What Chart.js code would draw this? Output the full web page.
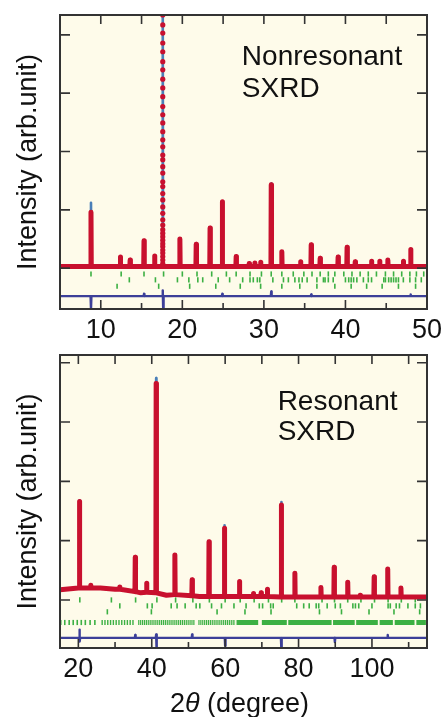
<!DOCTYPE html>
<html>
<head>
<meta charset="utf-8">
<script src="https://cdn.jsdelivr.net/npm/chart.js@4.4.0/dist/chart.umd.min.js"></script>
<style>
  body { margin: 0; background: #fff; }
  #wrap { position: relative; width: 442px; height: 717px; }
  canvas { position: absolute; left: 0; }
  #nrChart { top: 0; }
  #resChart { top: 345px; }
</style>
</head>
<body>
<div id="wrap">
  <canvas id="nrChart" width="442" height="345"></canvas>
  <canvas id="resChart" width="442" height="372"></canvas>
</div>
<script>
// ---- Nonresonant SXRD (top panel) ----
const nrBgX = [5, 50];
const nrBgY = [0.03, 0.03];
const nrPeakPos  = [8.8, 12.4, 13.6, 15.3, 16.6, 17.6, 19.7, 21.7, 23.4, 24.9, 26.6, 28.2, 28.9, 29.6, 30.9, 32.2, 34.5, 35.8, 36.9, 39.1, 40.2, 41.2, 43.2, 44.2, 45.2, 47.1, 48.0];
const nrPeakObs  = [0.96, 0.19, 0.14, 0.47, 0.21, null, 0.50, 0.41, 0.69, 1.14, 0.20, 0.08, 0.09, 0.10, 1.43, 0.28, 0.11, 0.40, 0.17, 0.19, 0.36, 0.11, 0.12, 0.12, 0.14, 0.12, 0.32];
const nrPeakCalc = [1.12, 0.19, 0.14, 0.47, 0.21, 4.60, 0.50, 0.41, 0.69, 1.14, 0.20, 0.08, 0.09, 0.10, 1.45, 0.28, 0.11, 0.40, 0.17, 0.19, 0.36, 0.11, 0.12, 0.12, 0.14, 0.12, 0.32];
// observed points along the strongest reflection
const nrMainPeakX = 17.6;
const nrMainPeakDots = [4.34, 4.17, 4.03, 3.86, 3.71, 3.54, 3.40, 3.24, 3.09, 2.94, 2.77, 2.63, 2.49, 2.34, 2.20, 2.08, 1.94, 1.86, 1.74, 1.63, 1.48, 1.40, 1.28, 1.17, 1.05, 0.94, 0.83, 0.74, 0.66, 0.60, 0.54, 0.48, 0.42, 0.37, 0.31, 0.26, 0.20, 0.14, 0.08];
const nrBragg1 = [8.8, 12.5, 15.3, 17.7, 20.0, 21.8, 23.6, 25.4, 26.6, 28.3, 29.7, 30.9, 32.2, 33.6, 34.9, 35.9, 36.9, 37.9, 38.7, 39.8, 40.8, 41.8, 42.8, 43.8, 44.9, 45.9, 46.9, 47.9, 48.7, 49.6];
const nrBragg2 = [13.5, 16.7, 19.4, 20.8, 21.9, 22.5, 24.4, 25.8, 27.4, 28.3, 28.7, 29.2, 29.5, 31.1, 32.4, 33.0, 33.8, 34.3, 34.7, 35.3, 36.5, 37.3, 37.5, 37.9, 38.5, 40.0, 40.4, 40.7, 41.0, 41.4, 42.2, 42.8, 43.2, 44.7, 44.9, 45.3, 45.6, 45.9, 46.2, 46.5, 47.1, 47.9, 48.6, 49.3];
const nrBragg3 = [12.0, 17.1, 20.9, 24.1, 27.1, 29.6, 32.2, 34.4, 36.5, 38.7, 40.7, 42.6, 44.5, 46.5, 48.6];
const nrDiffX = [5, 8.75, 8.8, 8.85, 15.25, 15.3, 15.35, 17.55, 17.6, 17.65, 17.7, 24.85, 24.9, 24.95, 30.85, 30.9, 30.95, 35.75, 35.8, 35.85, 47.95, 48.0, 48.05, 50];
const nrDiffY = [0, 0, -0.22, 0, 0, 0.04, 0, 0, 0.10, -0.20, 0, 0, 0.04, 0, 0, 0.08, 0, 0, 0.03, 0, 0, 0.03, 0, 0];
const nrXTicks = [10, 15, 20, 25, 30, 35, 40, 45, 50];
const nrXLabels = [10, 20, 30, 40, 50];
const nrYTicks = [0, 1, 2, 3, 4];

// ---- Resonant SXRD (bottom panel) ----
const resBgX = [15, 20, 26, 30, 37, 44, 53, 58, 115];
const resBgY = [0.17, 0.20, 0.20, 0.18, 0.12, 0.08, 0.06, 0.06, 0.05];
const resPeakPos  = [20.3, 23.4, 31.3, 35.5, 38.6, 41.2, 46.3, 51.0, 55.6, 59.8, 63.9, 67.7, 69.8, 71.5, 75.3, 79.0, 86.1, 89.7, 93.4, 96.8, 100.6, 104.3, 107.9];
const resPeakObs  = [1.66, 0.25, 0.22, 0.72, 0.28, 3.65, 0.76, 0.34, 0.98, 1.21, 0.31, 0.11, 0.12, 0.18, 1.60, 0.45, 0.21, 0.55, 0.30, 0.08, 0.39, 0.52, 0.20];
const resPeakCalc = [1.68, 0.25, 0.22, 0.72, 0.28, 3.74, 0.76, 0.34, 0.98, 1.26, 0.31, 0.11, 0.12, 0.18, 1.65, 0.45, 0.21, 0.55, 0.30, 0.08, 0.39, 0.52, 0.20];
const resPeakBase = [0.20, 0.20, 0.18, 0.14, 0.13, 0.12, 0.09, 0.07, 0.06, 0.06, 0.06, 0.06, 0.06, 0.06, 0.05, 0.05, 0.05, 0.05, 0.05, 0.05, 0.05, 0.05, 0.05];
const resBragg1 = [20.4, 29.0, 35.6, 41.4, 46.5, 51.2, 55.7, 60.0, 64.1, 67.9, 71.8, 75.4, 79.0, 86.4, 89.8, 93.4, 97.0, 100.7, 104.4, 108.0, 111.8];
const resBragg2 = [31.3, 38.8, 40.1, 45.3, 46.9, 49.1, 52.1, 53.1, 56.3, 59.0, 62.4, 65.7, 69.3, 70.2, 72.4, 73.1, 79.5, 81.4, 82.9, 84.8, 85.5, 87.8, 90.0, 91.4, 94.8, 95.5, 96.4, 100.0, 104.4, 105.0, 106.6, 107.5, 109.8, 111.8, 113.2];
const resBragg3 = [27.9, 39.9, 57.8, 65.4, 72.5, 85.7, 91.7, 99.2, 106.0, 113.0];
const resBragg4 = [15.2, 16.3, 17.5, 18.6, 19.7, 20.8, 21.9, 23.2, 24.5];
const resBandWideStart = [26.3];
const resBandWideEnd = [35.4];
const resBandFineStart = [36.3, 52.7];
const resBandFineEnd = [51.8, 62.7];
const resBandSolidStart = [63.1, 70.0, 77.2, 89.4, 95.7, 102.1, 106.2, 112.1];
const resBandSolidEnd = [69.0, 76.8, 89.0, 95.3, 101.6, 105.7, 111.6, 114.7];
const resDiffX = [15, 20.2, 20.3, 20.4, 20.5, 35.4, 35.5, 35.6, 41.1, 41.2, 41.3, 41.4, 50.9, 51.0, 51.1, 59.9, 60.0, 60.1, 75.2, 75.3, 75.4, 89.8, 89.9, 90.0, 104.2, 104.3, 104.4, 115];
const resDiffY = [0, 0, 0.14, -0.06, 0, 0, 0.05, 0, 0, 0.06, -0.26, 0, 0, 0.06, 0, 0, -0.13, 0, 0, -0.17, 0, 0, -0.07, 0, 0, 0.05, 0, 0];
const resXTicks = [20, 30, 40, 50, 60, 70, 80, 90, 100, 110];
const resXLabels = [20, 40, 60, 80, 100];
const resYTicks = [0, 1, 2, 3, 4];

const RED = '#c8102e';
const CALC = '#4a7fb8';
const DIFF = '#3c3f98';
const GREEN = '#3cb043';
const FONT = '"Liberation Sans", Arial, Helvetica, sans-serif';

Chart.defaults.font.family = FONT;
Chart.defaults.color = '#111';

// observed / calculated profile: background points plus each reflection
function profile(bgX, bgY, pos, h, base, hw) {
    const pts = bgX.map((x, i) => ({ x, y: bgY[i] }));
    pos.forEach((p, i) => {
        if (h[i] == null) return;
        const b = Array.isArray(base) ? base[i] : base;
        pts.push({ x: p - hw, y: b }, { x: p, y: h[i] }, { x: p + hw, y: b });
    });
    return pts.sort((a, b) => a.x - b.x);
}

function row(xs, y) {
    return xs.map(x => ({ x, y }));
}

function bands(starts, ends, y) {
    const d = [];
    starts.forEach((s, i) => d.push({ x: s, y }, { x: ends[i], y }, { x: ends[i], y: null }));
    return d;
}

function shifted(xs, ys, off) {
    return xs.map((x, i) => ({ x, y: ys[i] + off }));
}

function braggSet(data, order) {
    return {
        data, showLine: false, order,
        pointStyle: 'line', rotation: 90, pointRadius: 2.6,
        borderColor: GREEN, borderWidth: 1.6, pointHoverRadius: 0
    };
}

// cream plot area, inward ticks, frame and panel caption
const panelDeco = {
    id: 'panelDeco',
    beforeDraw(chart, args, o) {
        const { ctx, chartArea: a } = chart;
        ctx.save();
        ctx.fillStyle = '#fefbea';
        ctx.fillRect(a.left, a.top, a.right - a.left, a.bottom - a.top);
        ctx.restore();
    },
    afterDraw(chart, args, o) {
        const { ctx, chartArea: a, scales: { x, y } } = chart;
        ctx.save();
        ctx.strokeStyle = '#333';
        ctx.lineWidth = 1.6;
        ctx.beginPath();
        x.ticks.forEach(t => {
            const px = x.getPixelForValue(t.value);
            const len = o.xLabels.includes(t.value) ? 9 : 6;
            ctx.moveTo(px, a.bottom); ctx.lineTo(px, a.bottom - len);
            ctx.moveTo(px, a.top); ctx.lineTo(px, a.top + 9);
        });
        y.ticks.forEach(t => {
            const py = y.getPixelForValue(t.value);
            ctx.moveTo(a.left, py); ctx.lineTo(a.left + 10, py);
            ctx.moveTo(a.right, py); ctx.lineTo(a.right - 10, py);
        });
        ctx.stroke();
        ctx.lineWidth = 2;
        ctx.strokeRect(a.left, a.top, a.right - a.left, a.bottom - a.top);

        ctx.fillStyle = '#111';
        ctx.font = '28px ' + FONT;
        ctx.textAlign = 'left';
        ctx.textBaseline = 'alphabetic';
        o.caption.forEach((s, i) => {
            ctx.fillText(s, x.getPixelForValue(o.captionX), y.getPixelForValue(o.captionY[i]));
        });

        if (o.xTitle) {
            const parts = [['2', ''], ['\u03b8', 'italic '], [' (degree)', '']];
            let w = 0;
            parts.forEach(p => { ctx.font = p[1] + '27px ' + FONT; w += ctx.measureText(p[0]).width; });
            let cx = (a.left + a.right) / 2 - w / 2 - 4;
            parts.forEach(p => {
                ctx.font = p[1] + '27px ' + FONT;
                ctx.fillText(p[0], cx, o.xTitleY);
                cx += ctx.measureText(p[0]).width;
            });
        }
        ctx.restore();
    }
};

function makeScales(xMin, xMax, xTicks, xLabels, yMin, yMax, yTicks, xHeight) {
    return {
        x: {
            type: 'linear', min: xMin, max: xMax,
            grid: { display: false, drawTicks: false },
            border: { display: false },
            afterBuildTicks: s => { s.ticks = xTicks.map(v => ({ value: v })); },
            afterFit: s => { s.height = xHeight; s.paddingLeft = 0; s.paddingRight = 0; },
            ticks: {
                autoSkip: false, maxRotation: 0, padding: 5,
                font: { size: 27 },
                callback: v => xLabels.includes(v) ? String(v) : ''
            }
        },
        y: {
            type: 'linear', min: yMin, max: yMax,
            grid: { display: false, drawTicks: false },
            border: { display: false },
            afterBuildTicks: s => { s.ticks = yTicks.map(v => ({ value: v })); },
            afterFit: s => { s.width = 60; },
            ticks: { display: false },
            title: {
                display: true, text: 'Intensity (arb.unit)',
                font: { size: 27 }, padding: { top: 12, bottom: 0 }, color: '#111'
            }
        }
    };
}

const lineStyle = { borderJoinStyle: 'round', borderCapStyle: 'round', pointRadius: 0, showLine: true };

const nrHw = 0.035;
new Chart(document.getElementById('nrChart'), {
    type: 'scatter',
    data: {
        datasets: [
            Object.assign({ data: shifted(nrDiffX, nrDiffY, -0.48), order: 6, borderColor: DIFF, borderWidth: 2.4 }, lineStyle),
            braggSet(row(nrBragg1, -0.10), 5),
            braggSet(row(nrBragg2, -0.20), 5),
            braggSet(row(nrBragg3, -0.31), 5),
            Object.assign({ data: profile(nrBgX, nrBgY, nrPeakPos, nrPeakCalc, 0.03, nrHw), order: 4, borderColor: CALC, borderWidth: 2.6 }, lineStyle),
            Object.assign({ data: profile(nrBgX, nrBgY, nrPeakPos, nrPeakObs, 0.03, nrHw), order: 3, borderColor: RED, borderWidth: 5 }, lineStyle),
            {
                data: nrMainPeakDots.map(v => ({ x: nrMainPeakX, y: v })), showLine: false, order: 2,
                pointRadius: 2.6, backgroundColor: RED, borderWidth: 0
            }
        ]
    },
    options: {
        responsive: false, animation: false,
        layout: { padding: { top: 15, right: 15, left: 0, bottom: 0 } },
        plugins: {
            legend: { display: false }, tooltip: { enabled: false },
            panelDeco: { xLabels: nrXLabels, caption: ['Nonresonant', 'SXRD'], captionX: 27.3, captionY: [3.49, 2.94] }
        },
        scales: makeScales(5, 50, nrXTicks, nrXLabels, -0.7, 4.34, nrYTicks, 36)
    },
    plugins: [panelDeco]
});

const resHw = 0.08;
new Chart(document.getElementById('resChart'), {
    type: 'scatter',
    data: {
        datasets: [
            Object.assign({ data: shifted(resDiffX, resDiffY, -0.64), order: 6, borderColor: DIFF, borderWidth: 2.4 }, lineStyle),
            braggSet(row(resBragg1, 0), 5),
            braggSet(row(resBragg2, -0.10), 5),
            braggSet(row(resBragg3, -0.20), 5),
            braggSet(row(resBragg4, -0.38), 5),
            {
                data: bands(resBandWideStart, resBandWideEnd, -0.38), showLine: true, order: 5,
                borderColor: GREEN, borderWidth: 5, pointRadius: 0, borderDash: [1.4, 1.4]
            },
            {
                data: bands(resBandFineStart, resBandFineEnd, -0.38), showLine: true, order: 5,
                borderColor: GREEN, borderWidth: 5, pointRadius: 0, borderDash: [1.2, 0.7]
            },
            {
                data: bands(resBandSolidStart, resBandSolidEnd, -0.38), showLine: true, order: 5,
                borderColor: GREEN, borderWidth: 5, pointRadius: 0
            },
            Object.assign({ data: profile(resBgX, resBgY, resPeakPos, resPeakCalc, resPeakBase, resHw), order: 4, borderColor: CALC, borderWidth: 2.6 }, lineStyle),
            Object.assign({ data: profile(resBgX, resBgY, resPeakPos, resPeakObs, resPeakBase, resHw), order: 3, borderColor: RED, borderWidth: 5 }, lineStyle)
        ]
    },
    options: {
        responsive: false, animation: false,
        layout: { padding: { top: 10, right: 15, left: 0, bottom: 0 } },
        plugins: {
            legend: { display: false }, tooltip: { enabled: false },
            panelDeco: {
                xLabels: resXLabels, caption: ['Resonant', 'SXRD'], captionX: 74.3, captionY: [3.20, 2.70],
                xTitle: true, xTitleY: 366.5
            }
        },
        scales: makeScales(15, 115, resXTicks, resXLabels, -0.81, 4.13, resYTicks, 69)
    },
    plugins: [panelDeco]
});
</script>
</body>
</html>
